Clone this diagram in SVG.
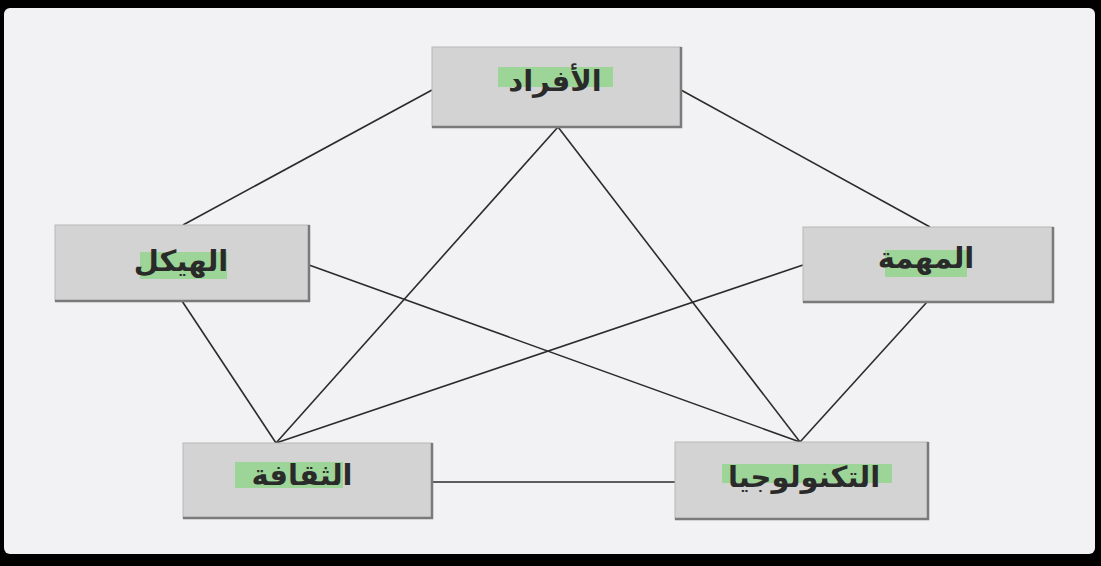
<svg xmlns="http://www.w3.org/2000/svg" width="1101" height="566" viewBox="0 0 1101 566">
<style>
.box{fill:#d3d3d3;stroke:#b8b8b8;stroke-width:1}
.sh{fill:none;stroke:#7a7a7a;stroke-width:2.5}
.hl{fill:#93d38c;opacity:0.85}
.t{font-family:"DejaVu Sans",sans-serif;font-size:29px;font-weight:bold;fill:#2a2a2a;text-anchor:middle;direction:rtl}
.c{stroke:#2b2b2b;stroke-width:1.6;fill:none}
</style>
<rect x="0" y="0" width="1101" height="566" fill="#000"/>
<rect x="4" y="8" width="1091" height="546" rx="6" fill="#f2f2f5"/>
<g id="connectors">
<line class="c" x1="432" y1="90" x2="183" y2="225"/>
<line class="c" x1="681" y1="90" x2="930" y2="227"/>
<line class="c" x1="558" y1="127" x2="276" y2="443"/>
<line class="c" x1="558" y1="127" x2="800" y2="442"/>
<line class="c" x1="309" y1="265" x2="800" y2="442"/>
<line class="c" x1="803" y1="265" x2="276" y2="443"/>
<line class="c" x1="182" y1="301" x2="276" y2="443"/>
<line class="c" x1="927" y1="302" x2="800" y2="442"/>
<line class="c" x1="432" y1="482" x2="675" y2="482"/>
</g>
<g id="n-afrad">
<rect class="box" x="432" y="47" width="249" height="80"/>
<polyline class="sh" points="432,127 681,127 681,47"/>
<rect class="hl" x="498" y="67" width="115" height="20"/>
<text class="t" x="555" y="91">الأفراد</text>
</g>
<g id="n-haykal">
<rect class="box" x="55" y="225" width="254" height="76"/>
<polyline class="sh" points="55,301 309,301 309,225"/>
<rect class="hl" x="140" y="252" width="87" height="27"/>
<text class="t" x="181" y="271">الهيكل</text>
</g>
<g id="n-muhimma">
<rect class="box" x="803" y="227" width="250" height="75"/>
<polyline class="sh" points="803,302 1053,302 1053,227"/>
<rect class="hl" x="885" y="250" width="82" height="27"/>
<text class="t" x="926" y="268">المهمة</text>
</g>
<g id="n-thaqafa">
<rect class="box" x="183" y="443" width="249" height="75"/>
<polyline class="sh" points="183,518 432,518 432,443"/>
<rect class="hl" x="235" y="462" width="108" height="26"/>
<text class="t" x="302" y="485">الثقافة</text>
</g>
<g id="n-tech">
<rect class="box" x="675" y="442" width="253" height="77"/>
<polyline class="sh" points="675,519 928,519 928,442"/>
<rect class="hl" x="722" y="464" width="170" height="19"/>
<text class="t" x="804" y="487">التكنولوجيا</text>
</g>
</svg>
